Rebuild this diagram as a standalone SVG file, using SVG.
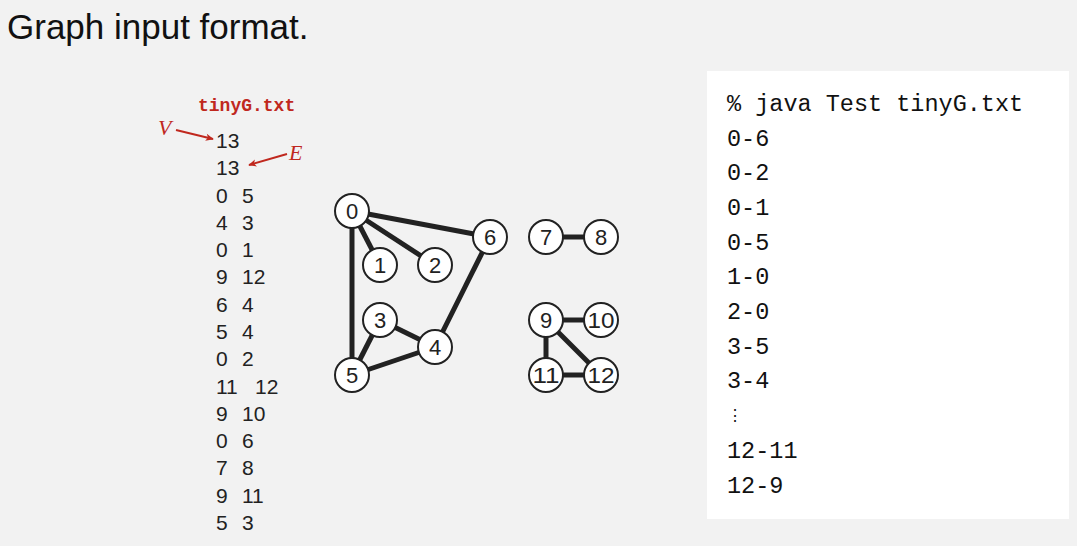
<svg xmlns="http://www.w3.org/2000/svg" width="1077" height="546" viewBox="0 0 1077 546">
<style>
.bg{fill:#f2f2f2}
.title{font-family:"Liberation Sans",Arial,sans-serif;font-size:35px;fill:#111}
.num{font-family:"Liberation Sans",Arial,sans-serif;font-size:21px;fill:#222}
.fname{font-family:"Liberation Mono","Courier New",monospace;font-size:18px;font-weight:bold;fill:#c0281e}
.var{font-family:"Liberation Serif","Times New Roman",serif;font-style:italic;font-size:22px;fill:#c0281e}
.mono{font-family:"Liberation Mono","Courier New",monospace;font-size:23.5px;fill:#111}
.edge{stroke:#222;stroke-width:5;fill:none}
.node circle{fill:#fff;stroke:#222;stroke-width:2}
.node text{font-family:"Liberation Sans",Arial,sans-serif;font-size:22px;fill:#222;text-anchor:middle;dominant-baseline:central}
.arr{stroke:#c0281e;stroke-width:2;fill:none}
</style>
<defs>
<marker id="ah" viewBox="0 0 10 10" refX="9" refY="5" markerWidth="11" markerHeight="8" orient="auto" markerUnits="userSpaceOnUse">
<path d="M0,0.5 L10,5 L0,9.5 L2.5,5 Z" fill="#c0281e"/>
</marker>
</defs>
<rect class="bg" x="0" y="0" width="1077" height="546"/>
<text class="title" x="7" y="39">Graph input format.</text>

<g id="file">
<text class="fname" x="198" y="111">tinyG.txt</text>
<text class="var" x="158" y="135">V</text>
<line class="arr" x1="176" y1="130" x2="213" y2="139" marker-end="url(#ah)"/>
<text class="var" x="289" y="160">E</text>
<line class="arr" x1="287" y1="154" x2="249" y2="165" marker-end="url(#ah)"/>
<text class="num" x="216" y="148">13</text>
<text class="num" x="216" y="175">13</text>
<text class="num" y="203"><tspan x="216">0</tspan><tspan x="242">5</tspan></text>
<text class="num" y="230"><tspan x="216">4</tspan><tspan x="242">3</tspan></text>
<text class="num" y="257"><tspan x="216">0</tspan><tspan x="242">1</tspan></text>
<text class="num" y="284"><tspan x="216">9</tspan><tspan x="242">12</tspan></text>
<text class="num" y="312"><tspan x="216">6</tspan><tspan x="242">4</tspan></text>
<text class="num" y="339"><tspan x="216">5</tspan><tspan x="242">4</tspan></text>
<text class="num" y="366"><tspan x="216">0</tspan><tspan x="242">2</tspan></text>
<text class="num" y="394"><tspan x="216">11</tspan><tspan x="255">12</tspan></text>
<text class="num" y="421"><tspan x="216">9</tspan><tspan x="242">10</tspan></text>
<text class="num" y="448"><tspan x="216">0</tspan><tspan x="242">6</tspan></text>
<text class="num" y="475"><tspan x="216">7</tspan><tspan x="242">8</tspan></text>
<text class="num" y="503"><tspan x="216">9</tspan><tspan x="242">11</tspan></text>
<text class="num" y="530"><tspan x="216">5</tspan><tspan x="242">3</tspan></text>
</g>

<g id="connectors">
<line class="edge" x1="352" y1="211" x2="352" y2="375"/>
<line class="edge" x1="352" y1="211" x2="380" y2="265"/>
<line class="edge" x1="352" y1="211" x2="435" y2="265"/>
<line class="edge" x1="352" y1="211" x2="490" y2="237"/>
<line class="edge" x1="490" y1="237" x2="435" y2="347"/>
<line class="edge" x1="380" y1="320" x2="435" y2="347"/>
<line class="edge" x1="380" y1="320" x2="352" y2="375"/>
<line class="edge" x1="352" y1="375" x2="435" y2="347"/>
<line class="edge" x1="546" y1="237" x2="601" y2="237"/>
<line class="edge" x1="546" y1="320" x2="601" y2="320"/>
<line class="edge" x1="546" y1="320" x2="546" y2="375"/>
<line class="edge" x1="546" y1="320" x2="601" y2="375"/>
<line class="edge" x1="546" y1="375" x2="601" y2="375"/>
</g>

<g id="n0" class="node"><circle cx="352" cy="211" r="17"/><text x="352" y="211">0</text></g>
<g id="n1" class="node"><circle cx="380" cy="265" r="17"/><text x="380" y="265">1</text></g>
<g id="n2" class="node"><circle cx="435" cy="265" r="17"/><text x="435" y="265">2</text></g>
<g id="n3" class="node"><circle cx="380" cy="320" r="17"/><text x="380" y="320">3</text></g>
<g id="n4" class="node"><circle cx="435" cy="347" r="17"/><text x="435" y="347">4</text></g>
<g id="n5" class="node"><circle cx="352" cy="375" r="17"/><text x="352" y="375">5</text></g>
<g id="n6" class="node"><circle cx="490" cy="237" r="17"/><text x="490" y="237">6</text></g>
<g id="n7" class="node"><circle cx="546" cy="237" r="17"/><text x="546" y="237">7</text></g>
<g id="n8" class="node"><circle cx="601" cy="237" r="17"/><text x="601" y="237">8</text></g>
<g id="n9" class="node"><circle cx="546" cy="320" r="17"/><text x="546" y="320">9</text></g>
<g id="n10" class="node"><circle cx="601" cy="320" r="17"/><text x="601" y="320" textLength="27" lengthAdjust="spacingAndGlyphs">10</text></g>
<g id="n11" class="node"><circle cx="546" cy="375" r="17"/><text x="546" y="375" textLength="27" lengthAdjust="spacingAndGlyphs">11</text></g>
<g id="n12" class="node"><circle cx="601" cy="375" r="17"/><text x="601" y="375" textLength="27" lengthAdjust="spacingAndGlyphs">12</text></g>

<g id="output">
<rect x="707" y="71" width="362" height="448" fill="#fff"/>
<text class="mono" x="727" y="111">% java Test tinyG.txt</text>
<text class="mono" x="727" y="146">0-6</text>
<text class="mono" x="727" y="180">0-2</text>
<text class="mono" x="727" y="215">0-1</text>
<text class="mono" x="727" y="250">0-5</text>
<text class="mono" x="727" y="284">1-0</text>
<text class="mono" x="727" y="319">2-0</text>
<text class="mono" x="727" y="354">3-5</text>
<text class="mono" x="727" y="388">3-4</text>
<text class="mono" x="727" y="421" style="font-size:16px">⋮</text>
<text class="mono" x="727" y="458">12-11</text>
<text class="mono" x="727" y="493">12-9</text>
</g>
</svg>
